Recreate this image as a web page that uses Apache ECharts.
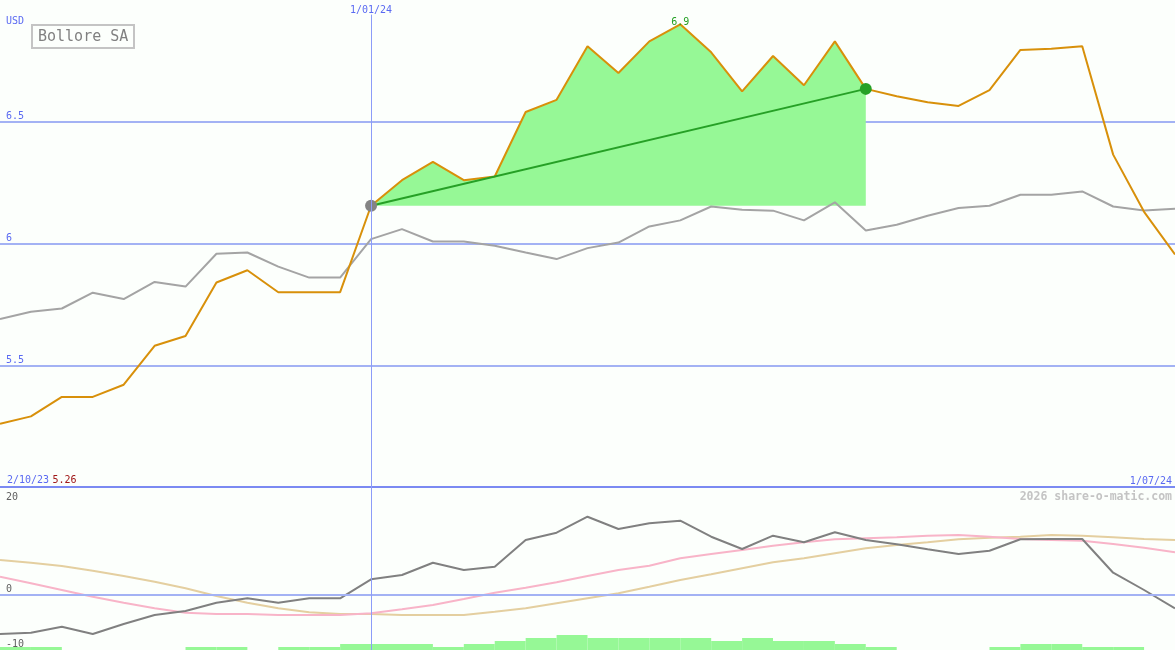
<!DOCTYPE html>
<html>
<head>
<meta charset="utf-8">
<script src="https://cdn.jsdelivr.net/npm/echarts@6/dist/echarts.min.js"></script>
<style>
html,body{margin:0;padding:0;background:#fcfffc;}
#c{width:1175px;height:650px;}
</style>
</head>
<body>
<div id="c"></div>
<script>
// ---- data (weekly points, index 0 .. 38) ----
const edgeLabels = ['2/10/23', '1/07/24'];
const markDateLabel = '1/01/24';
const markIndex = 12;
const lowLabel = '5.26';
const title = 'Bollore SA';
const unit = 'USD';

const price = [5.26, 5.29, 5.37, 5.37, 5.42, 5.58, 5.62, 5.84, 5.89, 5.80, 5.80, 5.80,
  6.155, 6.26, 6.335, 6.26, 6.275, 6.54, 6.59, 6.81, 6.70, 6.83, 6.90, 6.785, 6.625,
  6.77, 6.65, 6.83, 6.635, 6.605, 6.58, 6.565, 6.63, 6.795, 6.80, 6.81, 6.365, 6.13, 5.955];

const benchmark = [5.69, 5.72, 5.733, 5.798, 5.772, 5.842, 5.823, 5.958, 5.963, 5.905, 5.86, 5.86,
  6.018, 6.059, 6.008, 6.008, 5.991, 5.963, 5.936, 5.981, 6.004, 6.07, 6.095, 6.152, 6.139,
  6.135, 6.095, 6.169, 6.053, 6.077, 6.114, 6.146, 6.155, 6.20, 6.20, 6.214, 6.152, 6.136, 6.143];

const trendIdx = [12, 28];
const trendVal = [6.155, 6.635];

const momentum = [-7.86, -7.6, -6.4, -7.86, -5.86, -4.06, -3.26, -1.6, -0.72, -1.6, -0.72, -0.72,
  3.08, 3.94, 6.4, 4.94, 5.6, 10.94, 12.4, 15.6, 13.14, 14.28, 14.8, 11.6, 9.14,
  11.8, 10.48, 12.48, 10.94, 10.08, 9.08, 8.14, 8.8, 11.08, 11.14, 11.14, 4.4, 0.94, -2.72];

const avgFast = [3.6, 2.28, 0.94, -0.4, -1.6, -2.72, -3.6, -3.86, -3.86, -4.06, -4.06, -4.06,
  -3.72, -2.92, -2.06, -0.86, 0.4, 1.4, 2.48, 3.74, 4.94, 5.8, 7.28, 8.14, 8.94,
  9.8, 10.48, 11.08, 11.28, 11.48, 11.8, 11.94, 11.6, 11.14, 10.94, 10.8, 10.14, 9.4, 8.48];

const avgSlow = [6.94, 6.4, 5.74, 4.8, 3.74, 2.6, 1.28, -0.26, -1.6, -2.72, -3.52, -3.86, -3.86,
  -4.06, -4.06, -4.06, -3.4, -2.72, -1.72, -0.72, 0.28, 1.6, 2.94, 4.08, 5.28,
  6.48, 7.28, 8.28, 9.28, 9.94, 10.48, 11.08, 11.4, 11.6, 11.94, 11.8, 11.48, 11.14, 10.94];

// bar levels for each interval [i, i+1]
const levels = [1,1,0,0,0,0,1,1,0,1,1,2,2,2,1,2,3,4,5,4,4,4,4,3,4,3,3,2,1,0,0,0,1,2,2,1,1,0];

const lowerTicksMid = [20, -10];
const lowerTicksZero = [0];

// ---- chart ----
const mono = 'DejaVu Sans Mono';
const blue = '#5a6af2';
const gridBlue = '#a3b2f4';
const chart = echarts.init(document.getElementById('c'));
const idx = a => a.map((v, i) => [i, v]);
const lastIdx = price.length - 1;

const lowMin = -11.06, lowMax = 21.54;

chart.setOption({
  animation: false,
  backgroundColor: '#fcfffc',
  grid: [
    {left: 0, right: 0, top: 0, height: 487},
    {left: 0, right: 0, top: 487, height: 163}
  ],
  xAxis: [
    {gridIndex: 0, type: 'value', min: 0, max: lastIdx,
      axisLine: {show: true, onZero: false, lineStyle: {color: '#7b8af2', width: 2}},
      axisTick: {show: false}, splitLine: {show: false},
      axisLabel: {show: true, inside: true, margin: 1,
        customValues: [0, lastIdx],
        alignMinLabel: 'left', alignMaxLabel: 'right',
        formatter: v => v === 0 ? '{d|' + edgeLabels[0] + '} {r|' + lowLabel + '}' : '{e|' + edgeLabels[1] + '}',
        rich: {
          d: {color: blue, fontFamily: mono, fontSize: 10, padding: [0, 0, 0, 7]},
          r: {color: '#a01818', fontFamily: mono, fontSize: 10},
          e: {color: blue, fontFamily: mono, fontSize: 10, padding: [0, 3, 0, 0]}
        }}
    },
    {gridIndex: 1, type: 'value', min: 0, max: lastIdx, show: false}
  ],
  yAxis: [
    {gridIndex: 0, type: 'value', min: 5, max: 7, interval: 0.5,
      axisLine: {show: false}, axisTick: {show: false},
      splitLine: {show: true, showMinLine: false, showMaxLine: false, lineStyle: {color: gridBlue, width: 2}},
      axisLabel: {inside: true, showMinLabel: false, showMaxLabel: false, verticalAlign: 'bottom',
        margin: 6, color: blue, fontFamily: mono, fontSize: 10,
        formatter: v => String(v)}
    },
    {gridIndex: 1, type: 'value', position: 'left', min: lowMin, max: lowMax,
      axisLine: {show: false}, axisTick: {show: false},
      splitLine: {show: false},
      axisLabel: {inside: true, customValues: lowerTicksZero, verticalAlign: 'bottom',
        margin: 6, color: '#606060', fontFamily: mono, fontSize: 10}
    },
    {gridIndex: 1, type: 'value', position: 'left', offset: 0, min: lowMin, max: lowMax,
      axisLine: {show: false}, axisTick: {show: false}, splitLine: {show: false},
      axisLabel: {inside: true, customValues: lowerTicksMid, verticalAlign: 'middle',
        margin: 6, color: '#606060', fontFamily: mono, fontSize: 10,
        formatter: v => v > 0 ? '{t|' + v + '}' : '{b|' + v + '}',
        rich: {t: {padding: [6, 0, 0, 0]}, b: {padding: [0, 0, 0, 0]}}}
    },
    {gridIndex: 1, type: 'value', min: 0, max: 163 / 3, show: false}
  ],
  graphic: [
    {type: 'text', left: 6, top: 16, style: {text: unit, fill: blue, font: '10px "' + mono + '"'}},
    {type: 'rect', shape: {x: 32, y: 25, width: 102, height: 23}, style: {fill: 'none', stroke: '#c4c4c4', lineWidth: 2}},
    {type: 'text', x: 38, y: 37, style: {text: title, fill: '#808080', font: '15px "' + mono + '"', verticalAlign: 'middle'}},
    {type: 'text', x: 1172, y: 497, style: {text: '2026 share-o-matic.com', fill: '#c4c4c4', font: 'bold 11.5px "' + mono + '"', align: 'right', verticalAlign: 'middle'}}
  ],
  series: [
    {type: 'line', xAxisIndex: 0, yAxisIndex: 0, z: 1,
      data: price.slice(trendIdx[0], trendIdx[1] + 1).map((v, k) => [trendIdx[0] + k, v]),
      symbol: 'none', lineStyle: {width: 0},
      areaStyle: {origin: trendVal[0], color: '#96f896', opacity: 1},
      markPoint: {symbol: 'circle', symbolSize: 0, data: [{type: 'max'}],
        label: {show: true, position: 'top', distance: 0, offset: [0, 3], formatter: p => p.value.toFixed(1),
          color: '#22a022', fontFamily: mono, fontSize: 10}}
    },
    {type: 'line', xAxisIndex: 0, yAxisIndex: 0, z: 2, data: idx(benchmark), symbol: 'none',
      lineStyle: {color: '#a4a4a4', width: 2}},
    {type: 'line', xAxisIndex: 0, yAxisIndex: 0, z: 3, data: idx(price), symbol: 'none',
      lineStyle: {color: '#d8900a', width: 2},
      markLine: {silent: true, symbol: 'none',
        lineStyle: {color: '#8c9cf8', width: 1, type: 'solid'},
        label: {show: true, position: 'end', distance: 0, offset: [0, 1], formatter: markDateLabel, color: blue, fontFamily: mono, fontSize: 10},
        data: [[{coord: [markIndex, 5]}, {coord: [markIndex, 6.94]}]]}
    },
    {type: 'line', xAxisIndex: 0, yAxisIndex: 0, z: 4,
      data: [
        {value: [trendIdx[0], trendVal[0]], itemStyle: {color: '#848484'}},
        {value: [trendIdx[1], trendVal[1]], itemStyle: {color: '#26a026'}}
      ],
      symbol: 'circle', symbolSize: 12, showSymbol: true,
      lineStyle: {color: '#26a026', width: 2}},
    // lower panel
    {type: 'custom', xAxisIndex: 1, yAxisIndex: 3, z: 1,
      data: levels.map((h, i) => [i, h]),
      renderItem: (params, api) => {
        const i = api.value(0), h = api.value(1);
        if (!h) return null;
        const a = api.coord([i, 0]), b = api.coord([i + 1, h]);
        return {type: 'rect', shape: {x: a[0], y: b[1], width: b[0] - a[0], height: a[1] - b[1]},
          style: {fill: '#96f896'}};
      }
    },
    {type: 'line', xAxisIndex: 1, yAxisIndex: 1, z: 2, data: idx(avgSlow), symbol: 'none',
      lineStyle: {color: '#e4cfa0', width: 2},
      markLine: {silent: true, symbol: 'none', label: {show: false},
        lineStyle: {color: gridBlue, width: 2, type: 'solid'},
        data: [{yAxis: 0}]}
    },
    {type: 'line', xAxisIndex: 1, yAxisIndex: 1, z: 3, data: idx(avgFast), symbol: 'none',
      lineStyle: {color: '#f8b4c8', width: 2}},
    {type: 'line', xAxisIndex: 1, yAxisIndex: 1, z: 4, data: idx(momentum), symbol: 'none',
      lineStyle: {color: '#808080', width: 2},
      markLine: {silent: true, symbol: 'none', label: {show: false},
        lineStyle: {color: '#8c9cf8', width: 1, type: 'solid'},
        data: [{xAxis: markIndex}]}
    }
  ]
});
</script>
</body>
</html>
